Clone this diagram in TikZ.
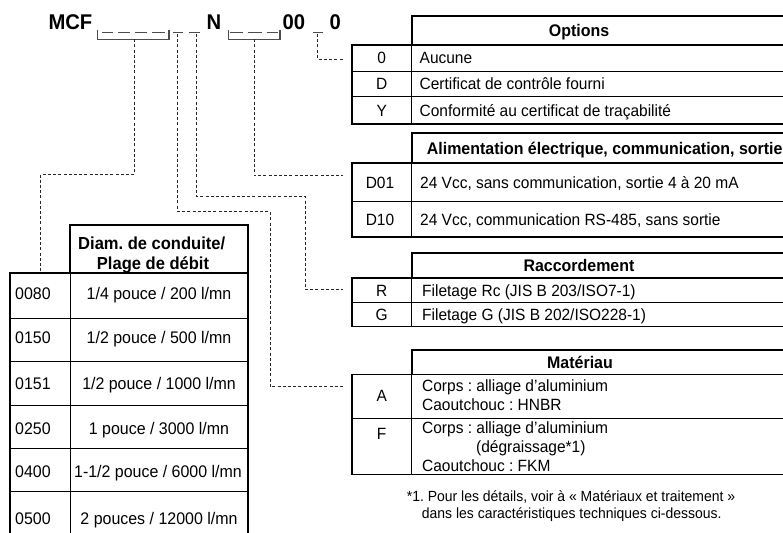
\documentclass[tikz,border=0pt]{standalone}
\usepackage{fontspec}
\setmainfont{Liberation Sans}[FakeStretch=0.95]
\frenchspacing
\begin{document}
\begin{tikzpicture}[x=1pt,y=-1pt,
  thickb/.style={line width=1.8pt},
  thinb/.style={line width=0.8pt},
  conn/.style={line width=0.9pt, dash pattern=on 3pt off 2.2pt, draw=black!85},
  phd/.style={line width=1.5pt, draw=black!70},
  brk/.style={line width=1.3pt, draw=black!70},
  body/.style={font=\fontsize{16.3}{19}\selectfont, inner sep=0pt, text height=11.7pt, text depth=0pt},
  bodyw/.style={body, anchor=west},
  lbody/.style={font=\fontsize{16.8}{20}\selectfont, inner sep=0pt, text height=12pt, text depth=0pt},
  head/.style={font=\bfseries\fontsize{16.8}{20}\selectfont, inner sep=0pt, text height=12pt, text depth=0pt},
  lhead/.style={font=\bfseries\fontsize{17.4}{20}\selectfont, inner sep=0pt, text height=12.5pt, text depth=0pt},
  foot/.style={font=\fontsize{14.7}{17}\selectfont, inner sep=0pt, text height=10.5pt, text depth=0pt},
  code/.style={font=\bfseries\fontsize{21.3}{24}\selectfont, inner sep=0pt, anchor=base west}]
\useasboundingbox (0,0) rectangle (783,532);
\clip (0,0) rectangle (783,532);
\fill[white] (0,0) rectangle (783,532);

% ---------- model code ----------
\node[code] (mcf) at (48.3,29.3) {MCF};
\node[code] (nn) at (206.3,29.3) {N};
\node[code] (zz) at (282.3,29.3) {00};
\node[code] (zo) at (329.3,29.3) {0};
% placeholders
\foreach \a/\b in {101.7/113.3,118.3/130,135/146.7,151.7/165,173.3/183.3,189.3/200,230/243.3,248.3/261.7,266.7/278.3,313/323}
  \draw[phd] (\a,32.5) -- (\b,32.5);
\draw[brk] (97.3,30) -- (97.3,39.3) -- (169,39.3) -- (169,30);
\draw[brk] (228.3,30) -- (228.3,39.3) -- (280,39.3) -- (280,30);
\coordinate (ph1) at (134.3,39.3);
\coordinate (ph2) at (177.8,34);
\coordinate (ph3) at (196,34);
\coordinate (ph4) at (254,39.3);
\coordinate (ph5) at (317.7,34);

% ---------- Options ----------
\draw[thinb] (411.7,45) -- (411.7,124) (351.7,71) -- (800,71) (351.7,96.7) -- (800,96.7);
\draw[thickb] (411.7,45) -- (411.7,16) -- (800,16);
\draw[thickb] (351.7,45) rectangle (800,124);
\node[head] (optH) at (579,30.5) {Options};
\node[body] (opt0) at (381.7,58) {0};
\node[bodyw] (opt0t) at (419.5,58) {Aucune};
\node[body] (optD) at (381.7,84) {D};
\node[bodyw] (optDt) at (419.5,84) {Certificat de contrôle fourni};
\node[body] (optY) at (381.7,110.3) {Y};
\node[bodyw] (optYt) at (419.5,110.3) {Conformité au certificat de traçabilité};
\coordinate (optIn) at (343,59);

% ---------- Alimentation ----------
\draw[thinb] (411.7,163.3) -- (411.7,236.7) (351.7,201.7) -- (800,201.7);
\draw[thickb] (411.7,163.3) -- (411.7,133.3) -- (800,133.3);
\draw[thickb] (351.7,163.3) rectangle (800,236.7);
\node[head,anchor=west] (aliH) at (426.7,148.3) {Alimentation électrique, communication, sortie};
\node[body] (ali1) at (380,182.5) {D01};
\node[bodyw] (ali1t) at (420,182.5) {24 Vcc, sans communication, sortie 4 à 20 mA};
\node[body] (ali2) at (380,219.5) {D10};
\node[bodyw] (ali2t) at (420,219.5) {24 Vcc, communication RS-485, sans sortie};
\coordinate (aliIn) at (343,175.5);

% ---------- Raccordement ----------
\draw[thinb] (411.7,278.3) -- (411.7,326.5) (351.7,302.7) -- (800,302.7);
\draw[thickb] (411.7,278.3) -- (411.7,253.3) -- (800,253.3);
\draw[thickb] (351.7,278.3) rectangle (800,326.5);
\node[head] (racH) at (579,265.8) {Raccordement};
\node[body] (racR) at (381.7,290.7) {R};
\node[bodyw] (racRt) at (422,290.7) {Filetage Rc (JIS B 203/ISO7-1)};
\node[body] (racG) at (381.7,314.8) {G};
\node[bodyw] (racGt) at (422,314.8) {Filetage G (JIS B 202/ISO228-1)};
\coordinate (racIn) at (343,289);

% ---------- Materiau ----------
\draw[thinb] (411.7,374.5) -- (411.7,474.5) (351.7,418.5) -- (800,418.5);
\draw[thickb] (411.7,374.5) -- (411.7,349.6) -- (800,349.6);
\draw[thickb] (351.7,374.5) rectangle (800,474.5);
\node[head] (matH) at (580,362) {Matériau};
\node[body] (matA) at (381.7,395.5) {A};
\node[bodyw] (matA1) at (422,385.8) {Corps : alliage d'aluminium};
\node[bodyw] (matA2) at (422,404.5) {Caoutchouc : HNBR};
\node[body] (matF) at (381.7,434) {F};
\node[bodyw] (matF1) at (422,427.5) {Corps : alliage d'aluminium};
\node[bodyw] (matF2) at (476,446.3) {(dégraissage*1)};
\node[bodyw] (matF3) at (422,465.5) {Caoutchouc : FKM};
\coordinate (matIn) at (343,386.7);

% ---------- footnote ----------
\node[foot] (fn1) at (571,496.7) {*1. Pour les détails, voir à « Matériaux et traitement »};
\node[foot] (fn2) at (571.7,513.3) {dans les caractéristiques techniques ci-dessous.};

% ---------- Diam. table ----------
\draw[thinb] (70,273.3) -- (70,540);
\foreach \yy in {318.3,361.7,405,448.3,491.7} \draw[thinb] (10,\yy) -- (248.3,\yy);
\draw[thickb] (70,273.3) -- (70,225) -- (248.3,225) -- (248.3,273.3);
\draw[thickb] (10,273.3) rectangle (248.3,536);
\node[lhead] (diaH1) at (151.7,243.3) {Diam. de conduite/};
\node[lhead] (diaH2) at (153,263.3) {Plage de débit};
\node[lbody] (d1) at (33,293.5) {0080};
\node[lbody] (d1t) at (159,293.5) {1/4 pouce / 200 l/mn};
\node[lbody] (d2) at (33,337.7) {0150};
\node[lbody] (d2t) at (159,337.7) {1/2 pouce / 500 l/mn};
\node[lbody] (d3) at (33,383.3) {0151};
\node[lbody] (d3t) at (159,383.3) {1/2 pouce / 1000 l/mn};
\node[lbody] (d4) at (33,428.3) {0250};
\node[lbody] (d4t) at (159,428.3) {1 pouce / 3000 l/mn};
\node[lbody] (d5) at (33,471.7) {0400};
\node[lbody] (d5t) at (158,471.7) {1-1/2 pouce / 6000 l/mn};
\node[lbody] (d6) at (33,518.3) {0500};
\node[lbody] (d6t) at (159,518.3) {2 pouces / 12000 l/mn};
\coordinate (diaIn) at (40.7,273.3);

% ---------- connectors ----------
\draw[conn] (ph1) -- (134.3,174.3) -| (diaIn);
\draw[conn] (ph2) -- (177.8,211.7) -| (270,386.7) -- (matIn);
\draw[conn] (ph3) -- (196,196) -| (305,289) -- (racIn);
\draw[conn] (ph4) |- (aliIn);
\draw[conn] (ph5) |- (optIn);
\end{tikzpicture}
\end{document}
